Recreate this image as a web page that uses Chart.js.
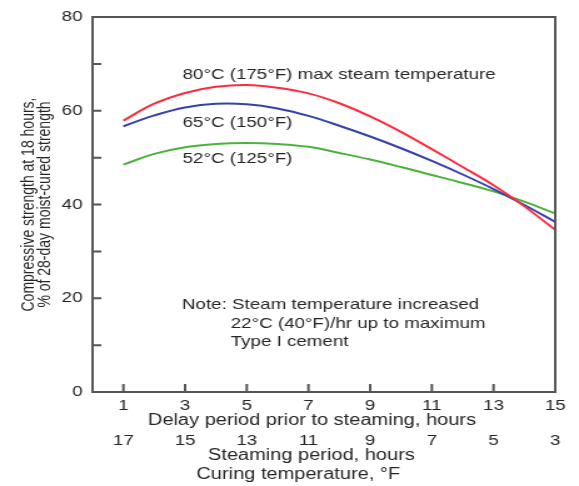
<!DOCTYPE html>
<html>
<head>
<meta charset="utf-8">
<script src="https://cdn.jsdelivr.net/npm/chart.js@4"></script>
<style>
  html, body { margin: 0; padding: 0; background: #fff; overflow: hidden; }
  /* the original figure is a narrower drawing stretched sideways */
  #wrap { width: 463px; height: 486px; transform: scaleX(1.2505); transform-origin: 0 0; }
</style>
</head>
<body>
<div id="wrap"><canvas id="chart" width="463" height="486"></canvas></div>
<script>
// delay period prior to steaming, hours
const delay = [1, 2, 3, 4, 5, 6, 7, 8, 9, 10, 11, 12, 13, 14, 15];
// compressive strength at 18 h, % of 28-day moist-cured strength
const red80 = [57.9, 61.5, 63.8, 65.1, 65.5, 64.9, 63.7, 61.6, 58.8, 55.5, 51.8, 48.0, 44.1, 39.6, 34.6];
const blue65 = [56.7, 59.0, 60.7, 61.5, 61.4, 60.5, 58.9, 56.8, 54.5, 52.0, 49.3, 46.4, 43.3, 39.9, 36.3];
const green52 = [48.5, 50.8, 52.2, 52.9, 53.1, 52.9, 52.3, 51.0, 49.6, 48.0, 46.3, 44.6, 42.8, 40.6, 38.1];

const delayTicks = [1, 3, 5, 7, 9, 11, 13, 15];
const steamTicks = [17, 15, 13, 11, 9, 7, 5, 3];
const yTicks = [0, 10, 20, 30, 40, 50, 60, 70, 80];

const font = "'Liberation Sans', Arial, Helvetica, sans-serif";
const axisColor = '#555';
const textColor = '#262626';

function pts(ys) {
    return delay.map((x, i) => ({ x: x, y: ys[i] }));
}

// frame, inward ticks, x titles and the notes
const decor = {
    id: 'decor',
    afterDraw(chart) {
        const ctx = chart.ctx;
        const a = chart.chartArea;
        const xs = chart.scales.x;
        const ys = chart.scales.y;
        ctx.save();
        ctx.strokeStyle = axisColor;
        ctx.lineWidth = 2;
        ctx.strokeRect(a.left, a.top, a.right - a.left, a.bottom - a.top);
        ctx.beginPath();
        yTicks.forEach(v => {
            const py = ys.getPixelForValue(v);
            ctx.moveTo(a.left, py);
            ctx.lineTo(a.left + 7, py);
        });
        delayTicks.forEach(v => {
            const px = xs.getPixelForValue(v);
            ctx.moveTo(px, a.bottom);
            ctx.lineTo(px, a.bottom - 8);
        });
        ctx.stroke();

        ctx.fillStyle = textColor;
        ctx.textBaseline = 'middle';
        ctx.textAlign = 'left';
        ctx.font = '15px ' + font;
        ctx.fillText('80°C (175°F) max steam temperature', 146, 75);
        ctx.fillText('65°C (150°F)', 146, 123);
        ctx.fillText('52°C (125°F)', 146, 159);
        ctx.fillText('Note: Steam temperature increased', 145.5, 305);
        ctx.fillText('22°C (40°F)/hr up to maximum', 184.5, 324);
        ctx.fillText('Type I cement', 184.5, 342);

        ctx.textAlign = 'center';
        ctx.font = '16px ' + font;
        ctx.fillText('Delay period prior to steaming, hours', 249.5, 421);
        ctx.fillText('Steaming period, hours', 249, 456);
        ctx.fillText('Curing temperature, °F', 238.5, 475);
        ctx.restore();
    }
};

new Chart(document.getElementById('chart'), {
    type: 'line',
    data: {
        datasets: [
            { label: '80°C', data: pts(red80), borderColor: '#ff2b3b', borderWidth: 2, pointRadius: 0, tension: 0.4 },
            { label: '65°C', data: pts(blue65), borderColor: '#3642ac', borderWidth: 2, pointRadius: 0, tension: 0.4 },
            { label: '52°C', data: pts(green52), borderColor: '#4cb23c', borderWidth: 2, pointRadius: 0, tension: 0.4 }
        ]
    },
    options: {
        responsive: false,
        animation: false,
        layout: { padding: { top: 17, right: 19, left: 0, bottom: 0 } },
        plugins: {
            legend: { display: false },
            tooltip: { enabled: false }
        },
        scales: {
            x: {
                type: 'linear',
                position: 'bottom',
                min: 0,
                max: 15,
                afterBuildTicks: s => { s.ticks = delayTicks.map(v => ({ value: v })); },
                afterFit: s => { s.height = 38; },
                grid: { display: false, drawTicks: false },
                border: { display: false },
                ticks: { color: textColor, font: { family: font, size: 15 }, padding: 5, maxRotation: 0 }
            },
            x2: {
                type: 'linear',
                position: 'bottom',
                min: 3,
                max: 18,
                reverse: true,
                afterBuildTicks: s => { s.ticks = steamTicks.map(v => ({ value: v })); },
                afterFit: s => { s.height = 56; },
                grid: { display: false, drawTicks: false },
                border: { display: false },
                ticks: { color: textColor, font: { family: font, size: 15 }, padding: 2, maxRotation: 0 }
            },
            y: {
                min: 0,
                max: 80,
                afterBuildTicks: s => { s.ticks = yTicks.map(v => ({ value: v })); },
                afterFit: s => { s.width = 74; },
                grid: { display: false, drawTicks: false },
                border: { display: false },
                ticks: {
                    color: textColor,
                    font: { family: font, size: 15 },
                    padding: 8,
                    callback: v => (v % 20 === 0 ? v : '')
                },
                title: {
                    display: true,
                    text: ['Compressive strength at 18 hours,', '% of 28-day moist-cured strength'],
                    color: textColor,
                    font: { family: font, size: 14, lineHeight: 0.9 },
                    padding: { top: 17, bottom: 0 }
                }
            }
        }
    },
    plugins: [decor]
});
</script>
</body>
</html>
